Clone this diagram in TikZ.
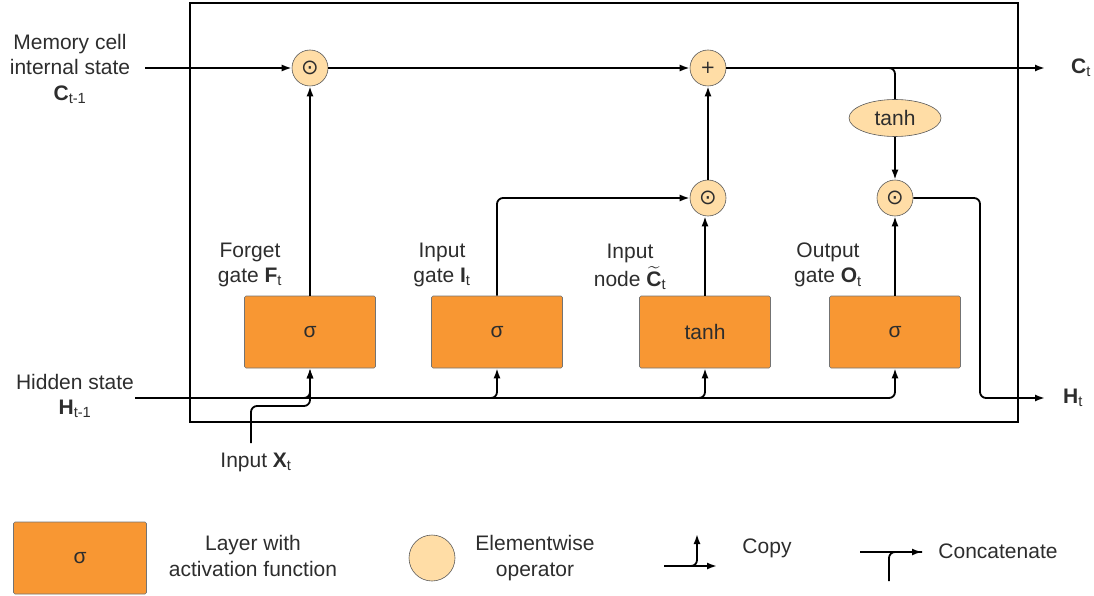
\documentclass[tikz,border=0pt]{standalone}
\usepackage{fontspec}
\setmainfont{Liberation Sans}
\usepackage{amsmath}
\usetikzlibrary{arrows.meta,shapes.geometric}
\definecolor{gatefill}{RGB}{248,151,51}
\definecolor{opfill}{RGB}{255,221,166}
\definecolor{txt}{RGB}{45,45,45}
\newfontfamily\symfont{DejaVu Sans}
\begin{document}
\begin{tikzpicture}[x=1pt,y=-1pt,
  every node/.style={font=\fontsize{21}{25.5}\selectfont, text=txt},
  wire/.style={line width=1.8pt, rounded corners=6pt},
  arr/.style={wire, -{Latex[length=10pt,width=7pt]}},
  layer/.style={draw=black!55, line width=0.6pt, fill=gatefill, rounded corners=1.5pt,
    minimum width=131pt, minimum height=72pt, inner sep=0pt},
  op/.style={circle, draw=black!65, line width=0.6pt, fill=opfill, minimum size=36pt, inner sep=0pt},
  lbl/.style={align=center, inner sep=0pt}]
\useasboundingbox (0,0) rectangle (1094,596);

% cell frame
\draw[line width=1.8pt] (190,3) rectangle (1018,422);

% elementwise operators
\node[op] (fprod) at (310,68) {\symfont ⊙};
\node[op] (plus) at (708,68) {\symfont\fontsize{18}{18}\selectfont +};
\node[op] (iprod) at (708,198) {\symfont ⊙};
\node[op] (oprod) at (895,198) {\symfont ⊙};
\node[ellipse, draw=black!65, line width=0.6pt, fill=opfill, minimum width=92pt,
  minimum height=37pt, inner sep=0pt] (tanhc) at (895,118) {tanh};

% layers
\node[layer] (fbox) at (310,332) {σ};
\node[layer] (ibox) at (497,332) {σ};
\node[layer] (cbox) at (705,332) {tanh};
\node[layer] (obox) at (895,332) {σ};

% free ends
\coordinate (cin) at (145,68);
\coordinate (cout) at (1045,68);
\coordinate (hin) at (135,398);
\coordinate (hturn) at (980,398);
\coordinate (hout) at (1045,398);
\coordinate (xin) at (251,443);
\coordinate (xbend) at (251,406);

% memory cell path
\draw[arr] (cin) -- (fprod);
\draw[arr] (fprod) -- (plus);
\draw[arr] (plus) -- (cout);
\draw[wire] (plus) -| (tanhc.north);
\draw[arr] (tanhc) -- (oprod);

% hidden state and input
\draw[arr] (hin) -| (fbox.south);
\draw[arr] (hin) -| (ibox.south);
\draw[arr] (hin) -| (cbox.south);
\draw[arr] (hin) -| (obox.south);
\draw[arr] (xin) -- (xbend) -| (fbox.south);

% gates to operators
\draw[arr] (fbox) -- (fprod);
\draw[arr] (ibox.north) |- (iprod);
\draw[arr] (cbox.north) -- (cbox.north |- iprod.south);
\draw[arr] (iprod) -- (plus);
\draw[arr] (obox) -- (oprod);
\draw[arr] (oprod) -| (hturn) -- (hout);

% labels
\node[lbl] (lc) at (70,69) {Memory cell\\internal state\\\textbf{C}\textsubscript{t-1}};
\node[lbl] (lh) at (75,396) {Hidden state\\\textbf{H}\textsubscript{t-1}};
\node[lbl] (lf) at (250,265) {Forget\\gate \textbf{F}\textsubscript{t}};
\node[lbl] (li) at (442,265) {Input\\gate \textbf{I}\textsubscript{t}};
\node[lbl] (ln) at (630,267) {Input\\[3pt]node\;$\widetilde{\mathbf{C}}$\textsubscript{t}};
\node[lbl] (lo) at (828,265) {Output\\gate \textbf{O}\textsubscript{t}};
\node[lbl] (lx) at (256,462) {Input \textbf{X}\textsubscript{t}};
\node[lbl, anchor=west] (lct) at (1071,68) {\textbf{C}\textsubscript{t}};
\node[lbl, anchor=west] (lht) at (1063,398) {\textbf{H}\textsubscript{t}};

% legend
\node[layer, minimum width=133pt, minimum height=72pt] (lbox) at (80,558) {σ};
\node[lbl] (lboxt) at (253,556) {Layer with\\activation function};
\node[op, minimum size=46pt] (lcirc) at (432,558) {};
\node[lbl] (lcirct) at (535,558) {Elementwise\\operator};
\coordinate (cpa) at (664,566);
\coordinate (cpb) at (717,566);
\coordinate (cpc) at (697,534);
\draw[arr] (cpa) -- (cpb);
\draw[arr] (cpa) -| (cpc);
\node[lbl] (lcopy) at (767,548) {Copy};
\coordinate (cca) at (860,552);
\coordinate (ccb) at (922,552);
\coordinate (ccc) at (889,581);
\draw[arr] (cca) -- (ccb);
\draw[wire] (ccc) |- (ccb);
\node[lbl] (lcat) at (998,551) {Concatenate};
\end{tikzpicture}
\end{document}
